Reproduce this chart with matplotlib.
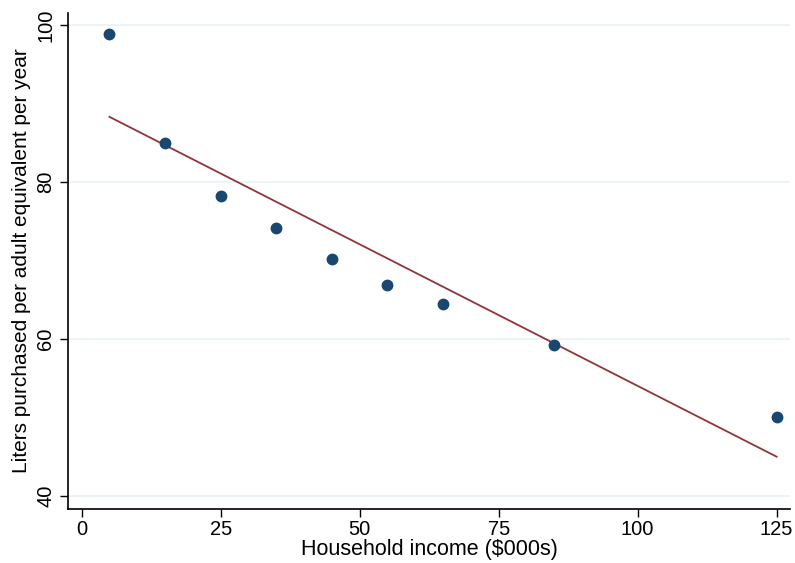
import numpy as np
import matplotlib
matplotlib.use("Agg")
import matplotlib.pyplot as plt

plt.rcParams['font.family'] = ['Liberation Sans', 'DejaVu Sans']

# binned means
income = [5, 15, 25, 35, 45, 55, 65, 85, 125]
liters = [98.8, 85.0, 78.2, 74.2, 70.2, 66.9, 64.5, 59.2, 50.1]

# linear fit endpoints
fit_x = [5, 125]
fit_y = [88.3, 45.0]

xticks = [0, 25, 50, 75, 100, 125]
yticks = [40, 60, 80, 100]

fig = plt.figure(figsize=(7.95, 5.63), dpi=100)
ax = fig.add_axes([68/795, 54/563, 722/795, 496/563])

for yt in yticks:
    ax.axhline(yt, color='#eaf2f3', lw=1.2, zorder=0)

ax.plot(fit_x, fit_y, color='#90353b', lw=1.3, zorder=2)
ax.plot(income, liters, 'o', color='#1a476f', ms=7.5, zorder=3)

ax.set_xlim(-2.46, 127.4)
ax.set_ylim(38.34, 101.53)
ax.set_xticks(xticks)
ax.set_yticks(yticks)
ax.tick_params(axis='both', labelsize=14.5, length=6, width=1, color='black')
ax.tick_params(axis='x', pad=2)
ax.tick_params(axis='y', pad=3)
for lab in ax.get_yticklabels():
    lab.set_rotation(90)
    lab.set_va('center')

for s in ['top', 'right']:
    ax.spines[s].set_visible(False)
for s in ['left', 'bottom']:
    ax.spines[s].set_linewidth(1.2)

ax.set_xlabel('Household income ($000s)', fontsize=15.5, labelpad=0)
ax.set_ylabel('Liters purchased per adult equivalent per year', fontsize=15, labelpad=4)

fig.savefig('out.png', dpi=100)
